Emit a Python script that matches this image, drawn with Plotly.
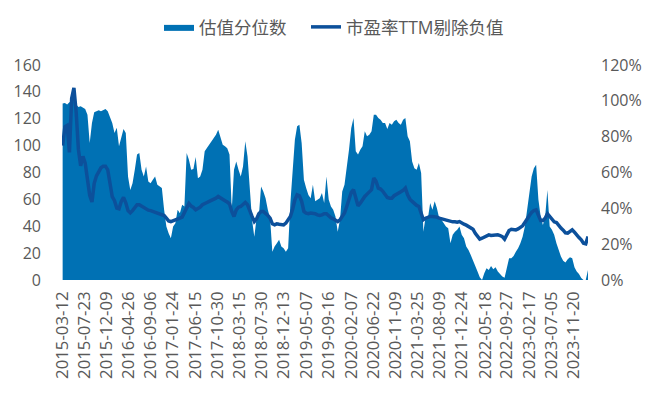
import pandas as pd
import plotly.graph_objects as go

# sampled every 14 days starting 2015-03-12
start_date = "2015-03-12"
step = "14D"

pe_ttm = [
    100, 114, 115, 95, 135, 143, 125, 97, 85, 92,
    87, 75, 63, 58, 72, 77.5, 81, 83.5, 84.6, 84.6,
    82, 71, 62, 59, 53.5, 53, 58.5, 61.5, 57.5, 51.6,
    50, 51.6, 54, 56, 56, 55, 54, 52.7, 52, 51.6,
    51, 50.4, 50, 49.8, 49.2, 48, 46, 44, 43.5, 44,
    45, 45.5, 46, 46.8, 49.8, 54, 57, 55, 54, 52.2,
    53, 54.2, 56, 57.2, 57.7, 58.5, 59.2, 60.2, 60.9, 62.2,
    60.9, 59.7, 59, 58, 56.7, 51, 47.3, 52.2, 54.2, 54.7,
    56, 57.7, 56, 51, 47.3, 43.5, 45.5, 49.3, 51, 51,
    49.8, 48, 46, 41.8, 41, 41.8, 41.5, 41, 41, 42.3,
    44.3, 47.3, 52.7, 59.7, 63.4, 62.7, 58.5, 51, 49.8, 49.3,
    49.8, 49.8, 49.3, 48.5, 48, 48.5, 49.3, 49.3, 47.3, 46.3,
    45.5, 44.8, 43.5, 44.8, 47.8, 49.8, 54.7, 59.7, 65.2, 67.2,
    60.9, 55.2, 57.2, 60.2, 62.2, 63.9, 65.4, 67.2, 75.9, 73.4,
    68.4, 67.7, 66, 63.4, 61.4, 60.9, 60.9, 62.7, 63.9, 64.7,
    65.7, 66.7, 68.4, 63.4, 60.2, 58.5, 56.7, 55.5, 54.7, 49.8,
    44.8, 46, 46.8, 47.3, 47.3, 47.3, 46.8, 46, 45.5, 45.3,
    44.8, 44, 43.5, 43.3, 43.3, 43, 43.5, 42.3, 41.5, 40.8,
    39.8, 39, 37.8, 34.8, 32.3, 30.4, 31.1, 31.8, 32.8, 33.6,
    33.1, 33.3, 34, 33.6, 33.1, 32.3, 30.4, 33.6, 36.8, 37.8,
    37.6, 37.3, 38, 39, 40.3, 42.8, 46, 48, 50.2, 51.7,
    52.2, 48.5, 44.3, 44.3, 46, 49.3, 47.3, 44.3, 43.3, 42.8,
    40.3, 38.6, 37.1, 35.1, 34.8, 35.8, 37.3, 35.6, 33.1, 31.6,
    29.9, 27.4, 26.9, 32.3,
]

percentile = [
    98.5, 98.8, 98, 99.2, 99.6, 99.9, 97.9, 96.6, 97, 96,
    95.5, 92.3, 76.5, 87.6, 93.6, 94.2, 94.7, 94.2, 94.7, 95.5,
    94.2, 90.5, 87.6, 82, 85, 74.6, 80, 84.3, 82, 57.8,
    50.3, 54, 61.5, 70, 70.9, 61.5, 57.8, 63.4, 55, 54,
    55.9, 57.8, 53.1, 52.2, 51.3, 39.2, 29.8, 26.1, 23.3, 29.8,
    31.7, 39.2, 37.3, 42, 41, 70.9, 67.1, 61.5, 62, 68.6,
    56.8, 57.8, 61.5, 71.8, 73.6, 75.5, 77.4, 79.2, 81.1, 83.9,
    79.2, 75.5, 74.6, 73.6, 70, 39.2, 61.5, 66.2, 61.5, 57.8,
    63.4, 77.4, 69, 52.2, 33.6, 24.2, 34.5, 35.4, 52.2, 49.4,
    45.6, 39.2, 34.5, 15.8, 18.7, 20.5, 22.4, 18.7, 17.7, 15.8,
    17.7, 43, 61.5, 78.3, 85.8, 86.7, 76.5, 55.9, 51.3, 47.5,
    45.6, 53.1, 44, 44.9, 45.6, 48.5, 43, 57.8, 44.9, 41,
    39.2, 35.4, 27, 33.6, 49.4, 53.1, 62.4, 72.7, 84.8, 90.4,
    71.8, 70, 72.7, 74.6, 83, 80.2, 81.1, 83, 92.3, 92.3,
    90.4, 89.5, 87.6, 87.6, 84.3, 87.6, 86.7, 88.6, 89.5, 87.6,
    86.7, 89.5, 90.4, 80.2, 77.4, 66.2, 62.4, 61.5, 65.3, 59.7,
    27, 35.4, 34.5, 43, 39.2, 44, 40.1, 34.5, 33.6, 31.7,
    29.8, 28.9, 20.5, 25.2, 27, 28, 29.8, 25.2, 23.3, 18.7,
    16.8, 14, 11.2, 8.4, 4.7, 1.5, 0, 3.7, 6.5, 5.6,
    7.8, 6, 7.1, 4.7, 3.4, 1.9, 1.3, 7.5, 12.1, 12.1,
    13.4, 15.8, 17.7, 20.5, 24.2, 29.8, 39.2, 46.6, 57.8, 62.4,
    64.3, 44.9, 35.4, 30.7, 35.4, 50.3, 29.8, 28, 25.2, 20.5,
    16.8, 13.1, 10.8, 9.7, 11.6, 12.7, 12.1, 7.1, 4.7, 3.4,
    1.1, 0, 0, 5.6,
]

tick_labels = [
    "2015-03-12", "2015-07-23", "2015-12-09", "2016-04-26", "2016-09-06",
    "2017-01-24", "2017-06-15", "2017-10-30", "2018-03-15", "2018-07-30",
    "2018-12-13", "2019-05-07", "2019-09-16", "2020-02-07", "2020-06-22",
    "2020-11-09", "2021-03-25", "2021-08-09", "2021-12-24", "2022-05-18",
    "2022-09-27", "2023-02-17", "2023-07-05", "2023-11-20",
]

n = min(len(pe_ttm), len(percentile))
dates = pd.date_range(start_date, periods=n, freq=step)

AREA = "rgb(0,113,180)"
LINE = "rgb(12,80,155)"
TXT = "#595959"
FONT = "Open Sans, Noto Sans CJK SC, sans-serif"

# the page body adds an 8px offset; size the figure to fit the window
W, H = 652, 388

fig = go.Figure()
# area on primary axis (drawn below), shown on the right side
fig.add_trace(go.Scatter(
    x=dates, y=percentile[:n], name="估值分位数", yaxis="y",
    mode="lines", line=dict(width=0, color=AREA), fill="tozeroy",
    fillcolor=AREA, legend="legend",
))
# line on overlaying axis (drawn above), shown on the left side
fig.add_trace(go.Scatter(
    x=dates, y=pe_ttm[:n], name="市盈率TTM剔除负值", yaxis="y2",
    mode="lines", line=dict(width=3.5, color=LINE), legend="legend2",
))

legend_common = dict(orientation="h", xref="container", yref="container",
                     xanchor="left", y=1 - 19 / H, yanchor="middle",
                     font=dict(size=17.5, color=TXT),
                     bgcolor="rgba(0,0,0,0)", itemwidth=30)

fig.update_layout(
    width=W, height=H,
    margin=dict(l=54, r=72, t=57, b=116, autoexpand=False),
    paper_bgcolor="white", plot_bgcolor="white",
    font=dict(family=FONT, color=TXT),
    showlegend=True,
    legend=dict(x=151 / W, **legend_common),
    legend2=dict(x=298 / W, **legend_common),
    xaxis=dict(
        type="date", automargin=False,
        range=[pd.Timestamp(start_date) - pd.Timedelta(days=4), dates[-1]],
        tickmode="array", tickvals=tick_labels, ticktext=tick_labels,
        tickangle=-90, tickfont=dict(size=16.8, color=TXT),
        ticklabelstandoff=7,
        showgrid=False, zeroline=False, showline=False, ticks="",
    ),
    yaxis=dict(
        range=[0, 120], dtick=20, tick0=0, side="right", automargin=False,
        showgrid=False, zeroline=False, showline=False, ticksuffix="%",
        tickfont=dict(size=16, color=TXT), ticks="", ticklabelstandoff=12,
    ),
    yaxis2=dict(
        range=[0, 160], dtick=20, tick0=0, overlaying="y", side="left",
        automargin=False, showgrid=False, zeroline=False, showline=False,
        tickfont=dict(size=16, color=TXT), ticks="", ticklabelstandoff=20,
    ),
)

fig.write_html("out.html")
